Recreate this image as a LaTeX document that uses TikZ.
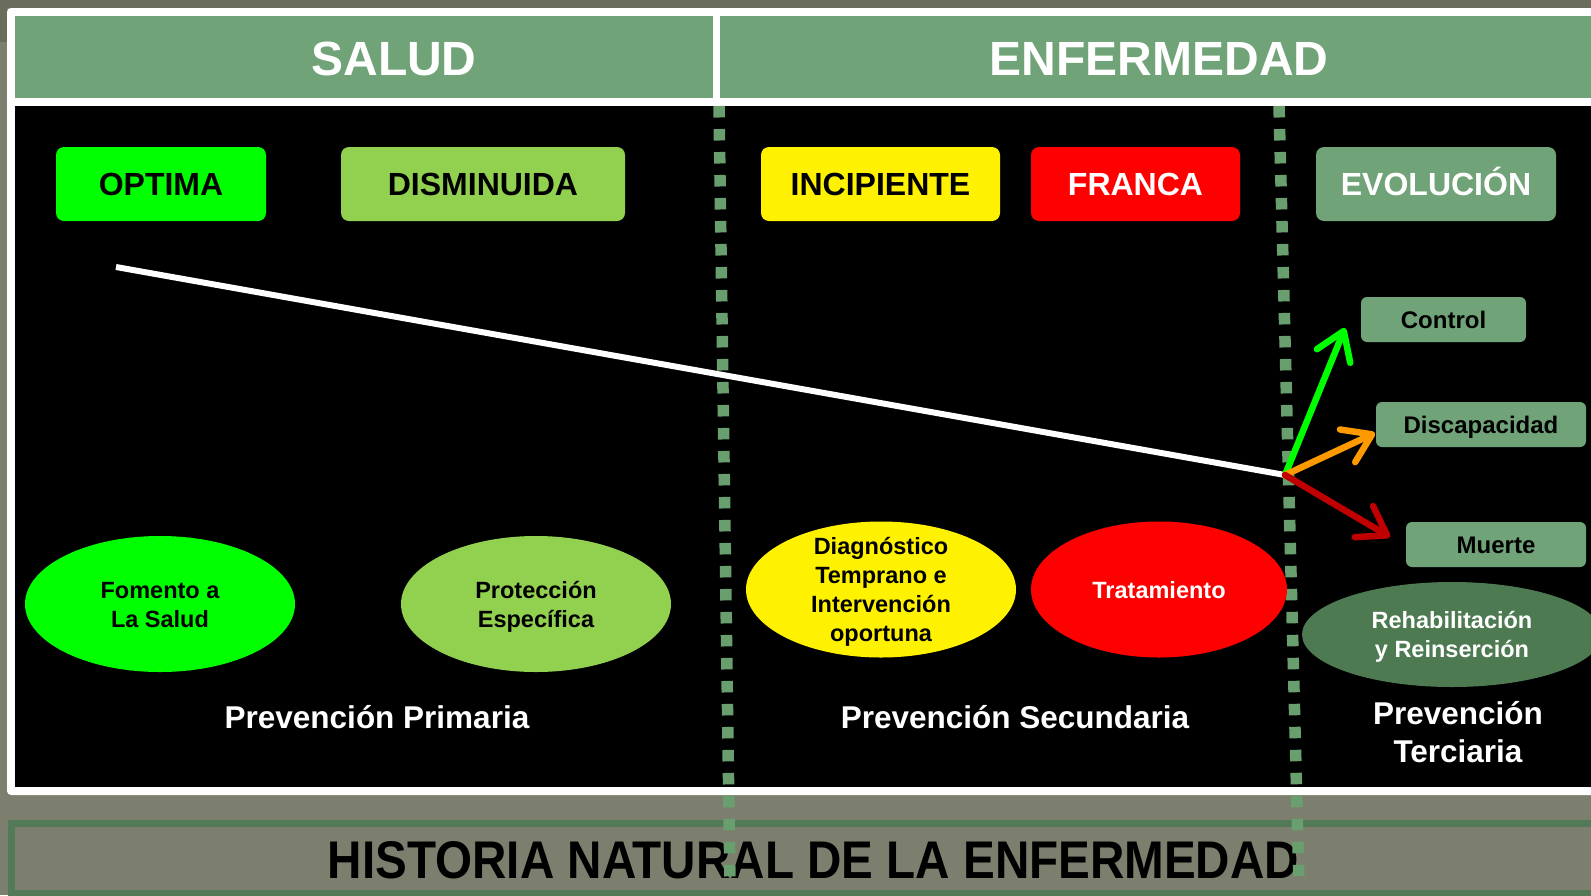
\documentclass[tikz,border=0pt]{standalone}
\usepackage{fontspec}
\setmainfont{Liberation Sans}
\usepackage{graphicx}
\usetikzlibrary{arrows.meta,shapes.geometric}
\definecolor{bgtex}{HTML}{7C7F6D}
\definecolor{bgdark}{HTML}{6B6D5C}
\definecolor{hdr}{HTML}{71A378}
\definecolor{darkov}{HTML}{4E7A52}
\definecolor{lgreen}{HTML}{92D050}
\definecolor{bgreen}{HTML}{00FF00}
\definecolor{dotc}{HTML}{699E6F}
\definecolor{bord}{HTML}{527A57}
\definecolor{orng}{HTML}{FF9900}
\definecolor{dred}{HTML}{C00000}
\tikzset{
  topbox/.style={rounded corners=8pt, minimum height=74pt, inner sep=0pt,
    font=\fontsize{32}{38}\selectfont\bfseries, text height=23pt, text depth=0pt},
  smallbox/.style={rounded corners=6pt, fill=hdr, minimum height=45pt, inner sep=0pt,
    font=\fontsize{24}{28}\selectfont\bfseries, text height=17.2pt, text depth=0pt},
  oval/.style={ellipse, inner sep=0pt, minimum width=270pt, minimum height=136pt},
  otext/.style={align=center, inner sep=0pt, font=\fontsize{23.5}{29}\selectfont\bfseries},
  prevlabel/.style={align=center, inner sep=0pt, text=white, font=\fontsize{31.5}{38}\selectfont\bfseries},
  hdrtext/.style={inner sep=0pt, text=white, font=\fontsize{48}{56}\selectfont\bfseries, text height=34.4pt, text depth=0pt},
  dotline/.style={draw=dotc, line width=11.5pt, dash pattern=on 11.5pt off 11.5pt},
  evo/.style={line width=6.5pt, line cap=round, -{Straight Barb[length=27pt,width=36pt,round]}}
}
\begin{document}
\begin{tikzpicture}[x=1pt,y=-1pt]
\useasboundingbox (0,0) rectangle (1591,895);
% background
\fill[bgtex] (0,0) rectangle (1591,895);
\fill[bgdark] (0,0) rectangle (1591,8);
\fill[bgdark] (0,0) rectangle (7,42);
% white frame
\fill[white, rounded corners=4pt] (7,8) rectangle (1620,795);
% header
\fill[hdr] (15,16) rectangle (713,98);
\fill[hdr] (720,16) rectangle (1620,98);
\node[hdrtext] (salud) at (394,58) {SALUD};
\node[hdrtext] (enf) at (1159,58) {ENFERMEDAD};
% black panel
\fill[black] (15,106) rectangle (1620,787);
% bottom title box
\draw[bord, line width=7pt] (11,823.5) rectangle (1620,893);
\node[inner sep=0pt] (title) at (813.5,860.5) {\resizebox{971pt}{37pt}{\bfseries HISTORIA NATURAL DE LA ENFERMEDAD}};
% dotted separators
\coordinate (d1t) at (719,106);
\coordinate (d1b) at (730,885);
\coordinate (d2t) at (1279,106);
\coordinate (d2b) at (1299,885);
\draw[dotline] (d1t) -- (d1b);
\draw[dotline] (d2t) -- (d2b);
% top boxes
\node[topbox, fill=bgreen, minimum width=210pt] (optima) at (161,184) {OPTIMA};
\node[topbox, fill=lgreen, minimum width=284pt] (dism) at (483,184) {DISMINUIDA};
\node[topbox, fill=yellow, minimum width=239pt] (incip) at (880.5,184) {INCIPIENTE};
\node[topbox, fill=red, text=white, minimum width=209pt] (franca) at (1135.5,184) {FRANCA};
\node[topbox, fill=hdr, text=white, minimum width=240pt] (evol) at (1436,184) {EVOLUCIÓN};
% outcome boxes
\node[smallbox, minimum width=165pt] (control) at (1443.5,319.5) {Control};
\node[smallbox, minimum width=210pt] (discap) at (1481,424.5) {Discapacidad};
\node[smallbox, minimum width=180pt] (muerte) at (1496,544.5) {Muerte};
% course line and arrows
\coordinate (start) at (116,267);
\coordinate (hub) at (1285,475);
\coordinate (tc) at (1345,328);
\coordinate (td) at (1375,433);
\coordinate (tm) at (1390,537);
\draw[white, line width=6pt] (start) -- (hub);
\draw[evo, bgreen] (hub) -- (tc);
\draw[evo, orng] (hub) -- (td);
\draw[evo, dred] (hub) -- (tm);
% ovals
\node[oval, fill=bgreen] (fom) at (160,604) {};
\node[otext] (fomt) at ([yshift=-1pt]fom.center) {Fomento a\\La Salud};
\node[oval, fill=lgreen] (prot) at (536,604) {};
\node[otext] (prott) at ([yshift=-3pt]prot.center) {Protección\\Específica};
\node[oval, fill=yellow] (diag) at (881,589.5) {};
\node[otext] (diagt) at ([yshift=-2.5pt]diag.center) {Diagnóstico\\Temprano e\\Intervención\\oportuna};
\node[oval, fill=red, minimum width=256pt] (trat) at (1159,589.5) {};
\node[otext, text=white] (tratt) at ([yshift=-1pt]trat.center) {Tratamiento};
\node[oval, fill=darkov, minimum width=300pt, minimum height=105pt] (rehab) at (1452,634.5) {};
\node[otext, text=white] (rehabt) at ([yshift=-2.5pt]rehab.center) {Rehabilitación\\y Reinserción};
% prevention labels
\node[prevlabel] (pp) at (377,717) {Prevención Primaria};
\node[prevlabel] (ps) at (1015,717) {Prevención Secundaria};
\node[prevlabel] (pt) at (1458,732) {Prevención\\Terciaria};
\end{tikzpicture}
\end{document}
